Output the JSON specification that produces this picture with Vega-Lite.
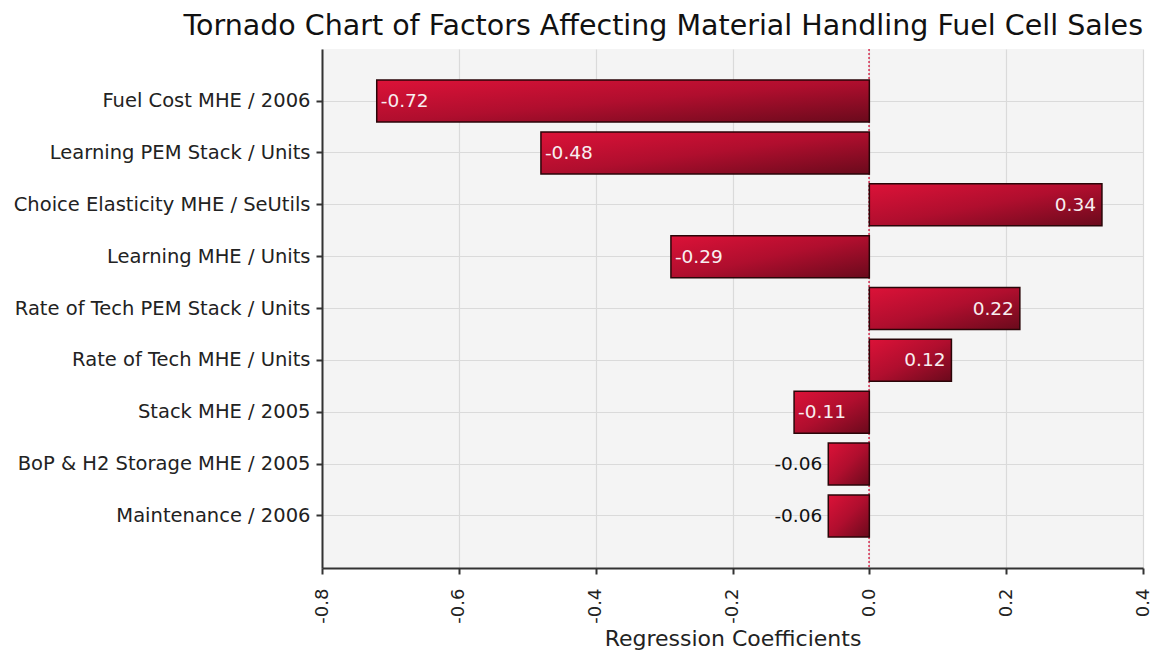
{
  "$schema": "https://vega.github.io/schema/vega-lite/v6.json",
  "width": 821,
  "height": 519,
  "autosize": {"type": "none"},
  "padding": {"left": 322, "top": 49, "right": 10, "bottom": 91},
  "background": "white",
  "title": {
    "text": "Tornado Chart of Factors Affecting Material Handling Fuel Cell Sales",
    "anchor": "end",
    "frame": "group",
    "font": "DejaVu Sans",
    "fontSize": 28.5,
    "fontWeight": "normal",
    "color": "#111111",
    "offset": 8
  },
  "data": {
    "values": [
      {"factor": "Fuel Cost MHE / 2006", "value": -0.72},
      {"factor": "Learning PEM Stack / Units", "value": -0.48},
      {"factor": "Choice Elasticity MHE / SeUtils", "value": 0.34},
      {"factor": "Learning MHE / Units", "value": -0.29},
      {"factor": "Rate of Tech PEM Stack / Units", "value": 0.22},
      {"factor": "Rate of Tech MHE / Units", "value": 0.12},
      {"factor": "Stack MHE / 2005", "value": -0.11},
      {"factor": "BoP & H2 Storage MHE / 2005", "value": -0.06},
      {"factor": "Maintenance / 2006", "value": -0.06}
    ]
  },
  "encoding": {
    "y": {
      "field": "factor",
      "type": "nominal",
      "sort": null,
      "scale": {"paddingInner": 0.19, "paddingOuter": 0.6},
      "axis": {
        "title": null,
        "labelFont": "DejaVu Sans",
        "labelFontSize": 19.5,
        "labelLimit": 400,
        "labelColor": "#222222",
        "labelPadding": 6,
        "tickSize": 6,
        "tickColor": "#333333",
        "tickWidth": 2,
        "domainColor": "#333333",
        "domainWidth": 2,
        "grid": true,
        "bandPosition": 0.5,
        "gridColor": "#dadada",
        "gridWidth": 1.2
      }
    },
    "x": {
      "field": "value",
      "type": "quantitative",
      "scale": {"domain": [-0.8, 0.4], "nice": false, "zero": false},
      "axis": {
        "values": [-0.8, -0.6, -0.4, -0.2, 0, 0.2, 0.4],
        "format": ".1f",
        "labelAngle": 270,
        "labelFont": "DejaVu Sans",
        "labelFontSize": 18,
        "labelColor": "#222222",
        "labelPadding": 14,
        "tickSize": 6,
        "tickColor": "#333333",
        "tickWidth": 2,
        "domainColor": "#333333",
        "domainWidth": 2,
        "grid": true,
        "gridColor": "#dadada",
        "gridWidth": 1.2,
        "title": "Regression Coefficients",
        "titleFont": "DejaVu Sans",
        "titleFontSize": 22,
        "titleFontWeight": "normal",
        "titleColor": "#222222",
        "titlePadding": 5
      }
    }
  },
  "layer": [
    {
      "mark": {"type": "rule", "color": "#d9506a", "strokeDash": [2, 2], "strokeWidth": 1},
      "encoding": {"x": {"datum": 0}, "y": null}
    },
    {
      "mark": {
        "type": "bar",
        "stroke": "#2a0508",
        "strokeWidth": 1.5,
        "color": {
          "gradient": "linear",
          "x1": 0, "y1": 0, "x2": 1, "y2": 1,
          "stops": [
            {"offset": 0, "color": "#dc1238"},
            {"offset": 0.5, "color": "#b00e2e"},
            {"offset": 1, "color": "#6a0a1c"}
          ]
        }
      }
    },
    {
      "transform": [{"filter": "datum.value <= -0.1"}],
      "mark": {"type": "text", "align": "left", "baseline": "middle", "dx": 4, "font": "DejaVu Sans", "fontSize": 18.5, "color": "#f8eef0"},
      "encoding": {"text": {"field": "value", "type": "quantitative", "format": ".2f"}}
    },
    {
      "transform": [{"filter": "datum.value >= 0.1"}],
      "mark": {"type": "text", "align": "right", "baseline": "middle", "dx": -6, "font": "DejaVu Sans", "fontSize": 18.5, "color": "#f8eef0"},
      "encoding": {"text": {"field": "value", "type": "quantitative", "format": ".2f"}}
    },
    {
      "transform": [{"filter": "datum.value > -0.1 && datum.value < 0"}],
      "mark": {"type": "text", "align": "right", "baseline": "middle", "dx": -6, "font": "DejaVu Sans", "fontSize": 18.5, "color": "#111111"},
      "encoding": {"text": {"field": "value", "type": "quantitative", "format": ".2f"}}
    }
  ],
  "config": {
    "view": {"fill": "#f4f4f4", "stroke": null},
    "locale": {"number": {"decimal": ".", "thousands": ",", "grouping": [3], "currency": ["$", ""], "minus": "-"}}
  }
}
